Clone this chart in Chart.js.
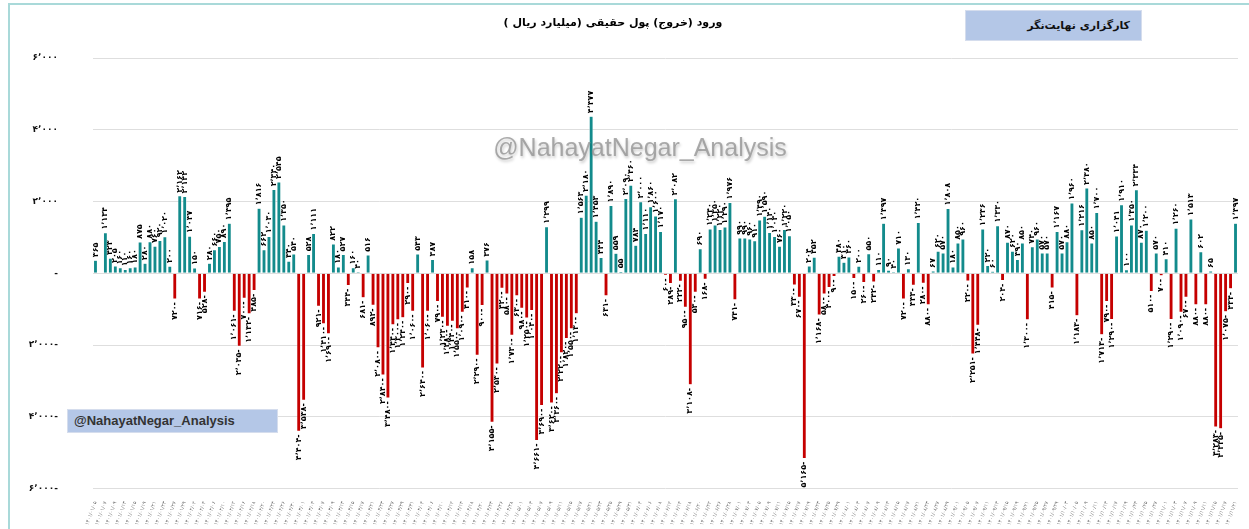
<!DOCTYPE html>
<html lang="fa">
<head>
<meta charset="utf-8">
<script src="https://cdn.jsdelivr.net/npm/chart.js@4.4.0/dist/chart.umd.min.js"></script>
<style>
html,body{margin:0;padding:0;background:#fff;width:1249px;height:529px;overflow:hidden;}
#wrap{position:relative;width:1249px;height:529px;}
#c{position:absolute;left:0;top:0;}
.frame{position:absolute;left:8px;top:3px;width:1300px;height:600px;border:2px solid #a9d9d9;box-sizing:border-box;pointer-events:none;}
.title{position:absolute;left:413px;top:16px;width:400px;text-align:center;direction:rtl;font:bold 11px "DejaVu Sans",sans-serif;color:#000;}
.brand{position:absolute;left:965px;top:10px;width:177px;height:31px;background:#b4c7e7;border:1px solid #d5dded;box-sizing:border-box;direction:rtl;font:bold 11px "DejaVu Sans",sans-serif;color:#111;line-height:29px;padding-right:11px;}
.tag{position:absolute;left:67px;top:409px;width:211px;height:24px;background:#b4c7e7;border:1px solid #d5dded;box-sizing:border-box;font:bold 13px "Liberation Sans",Arial,sans-serif;color:#333;line-height:22px;padding-left:6px;}
.wm{position:absolute;left:440px;top:133px;width:400px;text-align:center;font:25px "Liberation Sans",Arial,sans-serif;color:rgba(140,140,140,0.72);text-shadow:1px 2px 3px rgba(0,0,0,0.22);}
</style>
</head>
<body>
<div id="wrap">
<canvas id="c" width="1249" height="529"></canvas>
<div class="frame"></div>
<div class="title">ورود (خروج) پول حقیقی (میلیارد ریال )</div>
<div class="brand">کارگزاری نهایت‌نگر</div>
<div class="tag">@NahayatNegar_Analysis</div>
<div class="wm">@NahayatNegar_Analysis</div>
</div>
<script>
// ---- data ----
const netFlow = [
 365, null, 1134, 423, 205, 160, 110, 160, 180, 875,
 280, 880, 760, 920, 1020, 200, -720, 2162, 2142, 1037,
 150, -716, -528, 280, 660, 750, 890, 1395, -1061, -2035,
 -700, -1132, -485, 1816, 662, 1030, 2340, 2545, 1350, 340,
 540, -4404, -3538, 528, 1111, -921, -1410, -1690, 822, 180,
 527, -344, 160, 40, -681, 516, -892, -2080, -2840, -3480,
 -1440, -1300, -1240, -290, -1060, 543, -2640, -1060, 387, -790,
 -1230, -1480, -1340, -1550, -1090, -410, 158, -2290, -900, 376,
 -4155, -2530, -420, -580, -1730, -630, -980, -1250, -1040, -4661,
 -3690, 1299, -3620, -3360, -2220, -1820, -1550, -1130, 1563, 2180,
 4377, 1453, 444, -631, 1890, 559, 55, 2090, 2460, 784,
 2000, 1110, 1860, 1600, 1170, -60, -289, 2082, -222, -950,
 -3108, -530, 690, -168, 1240, 1350, 1220, 1290, 1976, -741,
 990, 990, 960, 910, 1490, 1590, 1140, 1030, 760, 1220,
 1050, -330, -670, -5165, 204, 452, -1168, -580, -400, -90,
 480, 310, 460, -150, 200, -260, 550, -242, 110, 1397,
 90, 40, 710, -720, 130, -333, 1420, -280, -880, 67,
 620, 570, 1808, 180, 850, 960, -220, -2251, -1448, 1236,
 220, 60, 1330, -204, 870, 620, 390, 850, -1300, 740,
 960, 570, 570, -415, 1167, 570, 880, 1960, -1183, 1216,
 2380, 850, 1700, -1713, -790, -1290, 1041, 1910, 100, 1350,
 2334, 870, 1200, -510, 570, -70, 410, -1290, 1260, -1090,
 -670, 1513, -880, 602, -880, 65, -4283, -4335, -1075, -434,
 1397
];
const yTicks = [-6000, -4000, -2000, 0, 2000, 4000, 6000];
const posColor = '#138b8c';
const negColor = '#c50000';

const faDigits = '۰۱۲۳۴۵۶۷۸۹';
function toFa(s){ return String(s).replace(/[0-9]/g, d => faDigits[+d]); }
function fmt(v){
  const a = Math.abs(v).toString().replace(/\B(?=(\d{3})+(?!\d))/g, '٬');
  return toFa(a) + (v < 0 ? '-' : '');
}

// trading-day date labels (tiny, unreadable in reference)
const monthLen = [31,31,31,31,31,31,30,30,30,30,30,29];
const categories = [];
(function(){
  let m = 1, d = 5, wd = 0;
  while (categories.length < netFlow.length) {
    if (wd % 7 !== 5 && wd % 7 !== 6) {
      const mm = (m < 10 ? '0' : '') + m, dd = (d < 10 ? '0' : '') + d;
      categories.push(toFa('1401/' + mm + '/' + dd));
    }
    wd++; d++;
    if (d > monthLen[m-1]) { d = 1; m++; if (m > 12) m = 1; }
  }
})();

const barLabels = {
  id: 'barLabels',
  afterDatasetsDraw(chart){
    const ctx = chart.ctx;
    const meta = chart.getDatasetMeta(0);
    ctx.save();
    ctx.font = 'bold 8px "DejaVu Sans", sans-serif';
    ctx.fillStyle = '#000';
    ctx.textBaseline = 'middle';
    meta.data.forEach((bar, i) => {
      const v = netFlow[i];
      if (v === null || v === undefined) return;
      ctx.save();
      ctx.translate(bar.x, v >= 0 ? bar.y - 3 : bar.y + 3);
      ctx.rotate(-Math.PI/2);
      ctx.textAlign = v >= 0 ? 'left' : 'right';
      ctx.fillText(fmt(v), 0, 0);
      ctx.restore();
    });
    ctx.restore();
  }
};

new Chart(document.getElementById('c'), {
  type: 'bar',
  data: {
    labels: categories,
    datasets: [{
      data: netFlow,
      backgroundColor: netFlow.map(v => (v !== null && v < 0) ? negColor : posColor),
      borderColor: 'rgba(255,255,255,0.85)',
      borderWidth: 0.6,
      barPercentage: 0.82,
      categoryPercentage: 1.0
    }]
  },
  options: {
    responsive: false,
    animation: false,
    devicePixelRatio: 1,
    layout: { padding: { left: 0, right: 11, top: 58, bottom: 0 } },
    plugins: { legend: { display: false }, tooltip: { enabled: false } },
    scales: {
      x: {
        grid: { display: false },
        border: { display: false },
        ticks: {
          autoSkip: false, maxRotation: 70, minRotation: 70,
          font: { size: 5, family: 'DejaVu Sans' }, color: '#6b6b6b', padding: 4,
          callback: (v, i) => (i % 2 === 0 ? categories[i] : '')
        },
        afterFit: s => { s.height = 39; }
      },
      y: {
        min: -6000, max: 6000,
        afterBuildTicks: s => { s.ticks = yTicks.map(v => ({ value: v })); },
        grid: { color: '#dedede', lineWidth: 1, drawTicks: false },
        border: { display: false },
        ticks: {
          padding: 35,
          font: { size: 9, weight: 'bold', family: 'DejaVu Sans' }, color: '#111',
          callback: v => (v === 0 ? '-' : fmt(v))
        },
        afterFit: s => { s.width = 93; }
      }
    }
  },
  plugins: [barLabels]
});
</script>
</body>
</html>
